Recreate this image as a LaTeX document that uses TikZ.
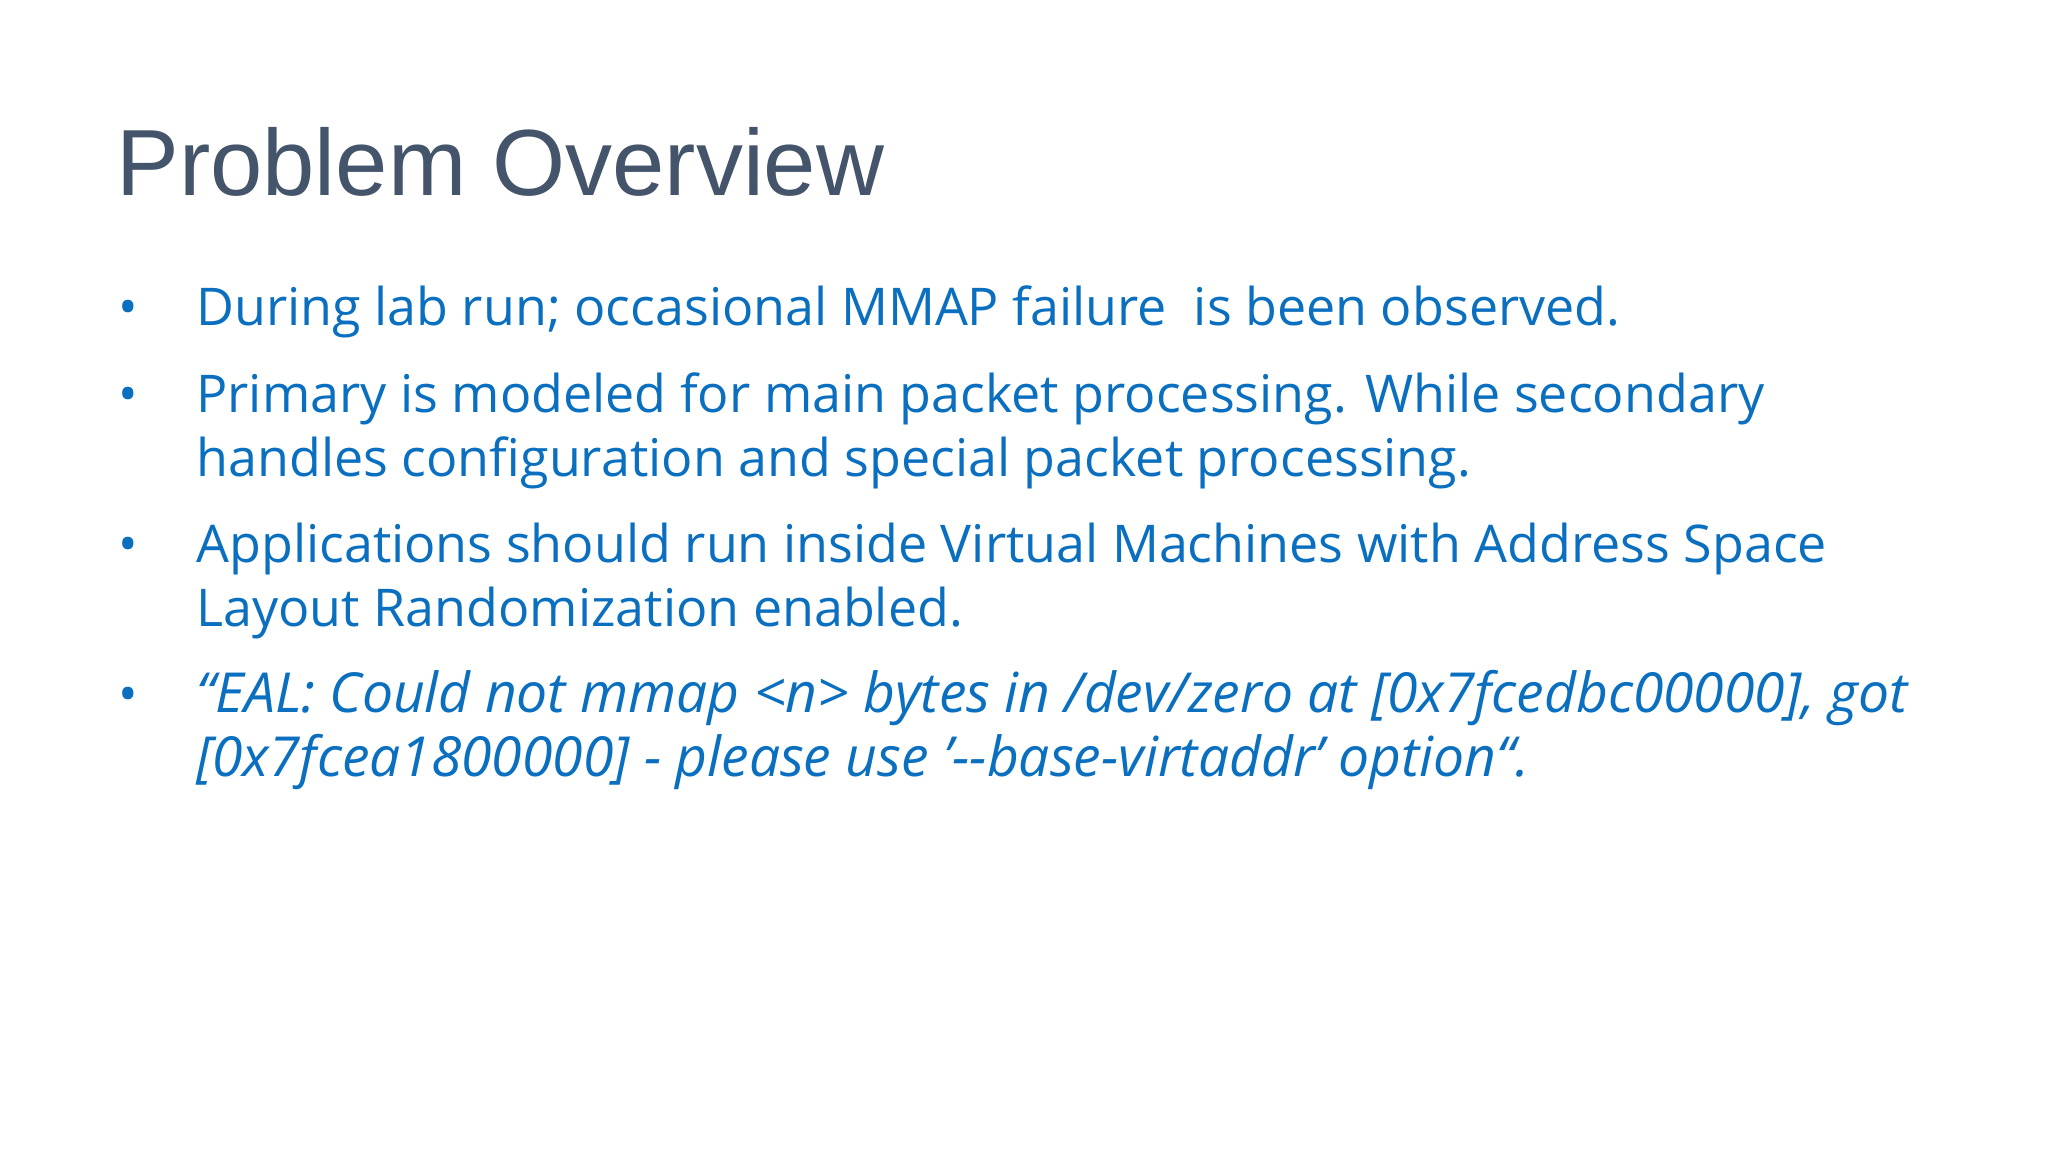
\documentclass[tikz,border=0pt]{standalone}
\usepackage{fontspec}
\setmainfont{Open Sans}
\newfontfamily\titlefont{Liberation Sans}
\definecolor{titlegray}{HTML}{44546A}
\definecolor{bodyblue}{HTML}{0B6FC0}
\begin{document}
\begin{tikzpicture}[x=1pt,y=1pt,
  line/.style={anchor=base west,inner sep=0pt,text=bodyblue,font=\fontsize{26}{32}\selectfont},
  iline/.style={anchor=base west,inner sep=0pt,text=bodyblue,font=\fontsize{27.6}{32}\selectfont\itshape},
  bul/.style={anchor=base,inner sep=0pt,text=bodyblue,font=\fontsize{26}{32}\selectfont}]
\useasboundingbox[fill=white] (0,0) rectangle (1024,576);
\node[anchor=base west,inner sep=0pt,text=titlegray,font=\titlefont\fontsize{47}{52}\selectfont] (title) at (58,478) {Problem Overview};
\node[bul] (b1) at (64,413) {•};
\node[line] (l1) at (98,413) {During lab run; occasional MMAP failure\ \ is been observed.};
\node[bul] (b2) at (64,369.7) {•};
\node[line] (l2) at (98,369.7) {Primary is modeled for main packet processing. While secondary};
\node[line] (l3) at (98,337.7) {handles configuration and special packet processing.};
\node[bul] (b3) at (64,294.7) {•};
\node[line] (l4) at (98,294.7) {Applications should run inside Virtual Machines with Address Space};
\node[line] (l5) at (98,262.7) {Layout Randomization enabled.};
\node[bul] (b4) at (64,219.7) {•};
\node[iline] (l6) at (98,219.7) {“EAL: Could not mmap <n> bytes in /dev/zero at [0x7fcedbc00000], got};
\node[iline] (l7) at (98,187.7) {[0x7fcea1800000] - please use \symbol{39}-{}-base-virtaddr\symbol{39} option“.};
\end{tikzpicture}
\end{document}
